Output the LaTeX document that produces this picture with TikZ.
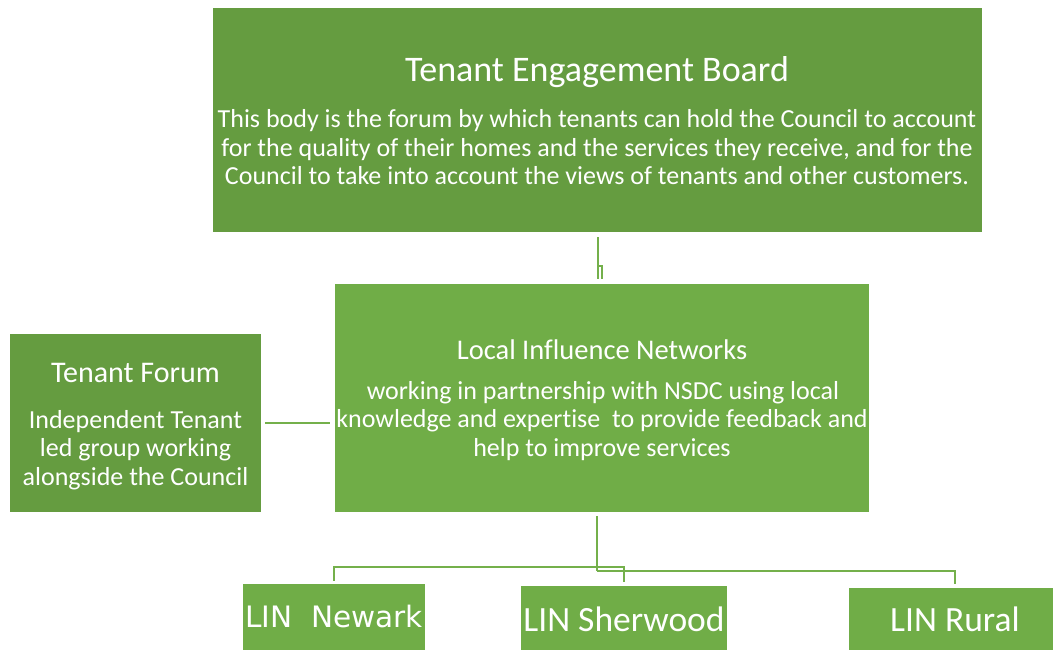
\documentclass[tikz,border=0pt]{standalone}
\usepackage{fontspec}
\setmainfont{Carlito}[Ligatures=NoCommon]
\newfontfamily\newarkfont{DejaVu Sans}
\usetikzlibrary{calc}
\definecolor{gdark}{HTML}{659C40}
\definecolor{glight}{HTML}{70AD47}
\definecolor{gline}{HTML}{74B04B}
\begin{document}
\begin{tikzpicture}[x=1pt,y=-1pt,
  box/.style={draw=none, inner sep=0pt, outer sep=0pt, anchor=north west},
  darkbox/.style={box, fill=gdark},
  lightbox/.style={box, fill=glight},
  txt/.style={text=white, inner sep=0pt, anchor=base},
  body/.style={txt, font=\fontsize{26}{28.5}\selectfont},
  link/.style={draw=gline, line width=2pt}]
\clip (0,0) rectangle (1053,650);
\fill[white] (0,0) rectangle (1053,650);

% boxes
\node[darkbox, minimum width=769pt, minimum height=224pt] (teb) at (213,8) {};
\node[lightbox, minimum width=534pt, minimum height=228pt] (lin) at (335,284) {};
\node[darkbox, minimum width=251pt, minimum height=178pt] (tf) at (10,334) {};
\node[lightbox, minimum width=182pt, minimum height=80pt] (newark) at (243,584) {};
\node[lightbox, minimum width=206pt, minimum height=80pt] (sherwood) at (521,586) {};
\node[lightbox, minimum width=212pt, minimum height=80pt] (rural) at (849,588) {};

% Tenant Engagement Board
\node[txt, font=\fontsize{36}{40}\selectfont] (teb-t) at (597,82) {Tenant Engagement Board};
\node[body] (teb-1) at (597,128) {This body is the forum by which tenants can hold the Council to account};
\node[body] (teb-2) at (597,156.5) {for the quality of their homes and the services they receive, and for the};
\node[body] (teb-3) at (597,185) {Council to take into account the views of tenants and other customers.};

% Local Influence Networks
\node[txt, font=\fontsize{28.5}{32}\selectfont] (lin-t) at (602,359) {Local Influence Networks};
\node[body] (lin-1) at (603,399) {working in partnership with NSDC using local};
\node[body] (lin-2) at (602,427.5) {knowledge and expertise\ \ to provide feedback and};
\node[body] (lin-3) at (602,456) {help to improve services};

% Tenant Forum
\node[txt, font=\fontsize{30}{34}\selectfont] (tf-t) at (135.5,382) {Tenant Forum};
\node[body] (tf-1) at (135.5,428) {Independent Tenant};
\node[body] (tf-2) at (135.5,456.5) {led group working};
\node[body] (tf-3) at (135.5,485) {alongside the Council};

% local networks
\node[txt, font=\newarkfont\fontsize{29.5}{33}\selectfont] (newark-t) at (334,627) {LIN\ \ Newark};
\node[txt, font=\fontsize{35.5}{40}\selectfont] (sherwood-t) at (624,631) {LIN Sherwood};
\node[txt, font=\fontsize{35.5}{40}\selectfont] (rural-t) at (955,631) {LIN Rural};

% connectors
\coordinate (t1) at ($(teb.south)+(0,5)$);
\draw[link] (t1) -- ($(t1 |- lin.north)+(0,-5)$);
\draw[link] ($(t1)+(0,29)$) -| ($(lin.north)+(0,-5)$);

\draw[link] ($(tf.east)+(4,0)$) -- ($(lin.west |- tf.east)+(-5,0)$);

\coordinate (b0) at ($(lin.south)+(-5,4)$);
\coordinate (b1) at ($(b0)+(0,51)$);
\coordinate (b2) at ($(b0)+(0,55)$);
\draw[link] (b0) -- (b2);
\draw[link] (b1) -| ($(newark.north)+(0,-3)$);
\draw[link] (b1) -| ($(sherwood.north)+(0,-4)$);
\draw[link] (b2) -| ($(rural-t.north |- rural.north)+(0,-4)$);
\end{tikzpicture}
\end{document}
